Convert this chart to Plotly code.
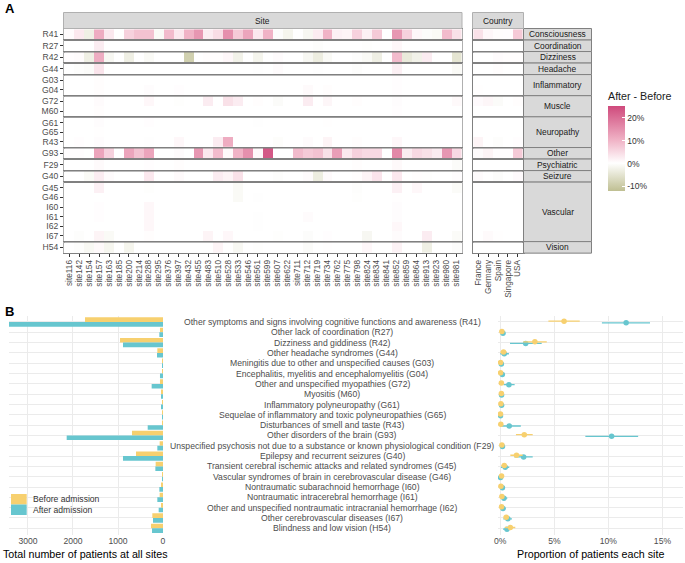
import plotly.graph_objects as go

W, H = 685, 563
FONT = "Liberation Sans"
GREY = "#4d4d4d"
YELLOW = "#F7D06F"
TEAL = "#67C6CF"

sites = ["site116", "site142", "site154", "site157", "site163", "site185", "site200", "site214", "site288", "site295",
         "site376", "site397", "site432", "site455", "site483", "site510", "site528", "site533", "site546", "site561",
         "site599", "site607", "site622", "site711", "site712", "site719", "site734", "site762", "site775", "site798",
         "site824", "site834", "site841", "site852", "site859", "site864", "site913", "site923", "site980", "site981"]
countries = ["France", "Germany", "Spain", "Singapore", "USA"]

# after - before, in % points, one list per ICD code
site_R41 = [.5, 3, -3, 11, 3, 0, 6, 8, 8, -1, 9, 3, 10, 14, 2.5, 4.5, 15, 7, 12, 3,
            10, -.5, -2, 0, -1.5, 2.5, 10, 2, 1.5, 6, 2, 7, 0, 14, 6, 1, -.5, -1, 9, 4]
site_R27 = [0, 0, 0, 2.5, 0, 0, 0, 0, 0, 0, 0, 0, 0, 0, 0, 0, 0, 0, 0, 0,
            0, 0, 0, 0, 0, -.3, 0, 0, 0, 0, -.2, 0, 0, 1, 0, 0, 0, 0, 0, 0]
site_R42 = [.2, .5, -3, 11, -1.5, 0, -3, 0, -1, 0, 0, 0, -9, 0, .3, .3, 1, -2.5, 0, -2,
            0, .5, 0, 0, -1.5, -3.5, -1, 0, 0, -.3, -1, -3, 0, 9, -4, -2.5, 2.5, 0, 0, -5]
site_G44 = [0, -.3, -.7, 3.5, 0, 0, 0, 0, 0, 0, 0, 0, 0, 0, 0, 0, 0, 0, 0, -.1,
            0, .5, 0, 0, 0, -.1, 0, 0, 0, -.3, 0, 0, 0, 2, 0, 0, 0, 0, 0, -1]
site_G03 = [0, 0, 0, .3, 0, 0, 0, 0, 0, 0, 0, 0, 0, 0, 0, 0, 0, 0, 0, 0,
            0, 0, 0, 0, 0, 0, 0, 0, 0, 0, 0, 0, 0, .2, 0, 0, 0, 0, 0, 0]
site_G04 = [0, 0, 0, .3, 0, 0, 0, 0, .4, 0, 0, .2, 0, 0, 0, 0, 0, 0, 0, 0,
            0, 0, 0, 0, .7, 0, .3, 0, 0, 0, 0, 0, 0, .2, 0, 0, 0, 0, 0, 0]
site_G72 = [0, 0, 0, .5, 0, 0, 0, 0, 1, 0, 0, -.2, 0, 0, 2.5, 0, 4, 2.5, 0, .3,
            0, -.7, 0, 0, 2.5, 0, 1.2, 0, 0, .3, 0, 0, 0, .4, 0, 0, 0, 0, 0, .8]
site_M60 = [0, 0, 0, .3, 0, 0, 0, 0, 0, 0, 0, 0, 0, 0, 0, 0, 0, 0, 0, 0,
            0, 0, 0, 0, 0, 0, 0, 0, 0, 0, 0, 0, 0, .2, 0, 0, 0, 0, 0, 0]
site_G61 = [0, 0, 0, .4, 0, 0, 0, 0, .2, 0, 0, 0, 0, 0, 0, 0, 0, 0, 0, -.1,
            0, 0, 0, 0, 0, 0, .1, 0, 0, 0, 0, 0, 0, 0, 0, 0, 0, 0, 0, 0]
site_G65 = [0, 0, 0, .1, 0, 0, 0, 0, 0, 0, 0, 0, 0, 0, 0, 0, 0, 0, 0, 0,
            0, 0, 0, 0, 0, 0, 0, 0, 0, 0, 0, 0, 0, 0, 0, 0, 0, 0, 0, 0]
site_R43 = [0, .2, 0, .4, 0, 0, 0, 0, -.1, 0, 0, 1, 0, 0, 0, 2.5, 11, 0, 0, 0,
            0, -.4, 0, 0, .5, 0, 1.5, 0, 0, .3, 0, 0, 0, 1, 0, 0, 0, 0, 0, 0]
site_G93 = [.2, .2, 0, 12, 6, 0, 12, 8, 12, 0, 0, .5, 0, 14, 3, 9, .8, 10, 15, 1,
            23, 0, 0, 9, 7, 8, 4, 13, 3, 6, 5, 5, 0, 16, 2.5, 5, 4, 2.5, 14, 5]
site_F29 = [0, 0, 0, .7, 0, 0, 0, 0, .2, 0, 0, .3, 0, 0, 0, 0, 0, 0, 0, 0,
            0, 0, 0, 0, 0, 0, 0, 0, 0, .3, 0, 0, 0, .8, 0, 0, 0, 0, 0, -.7]
site_G40 = [0, 0, -1, 2.5, .5, 0, 0, 0, 3, 0, 0, .7, 0, 0, 0, 2.5, 1.5, 4, 0, 0,
            0, -.3, 0, 0, .5, -3.5, .7, 0, 0, .3, 1.5, 3.5, 0, 3, 0, .3, -.2, 0, 0, .4]
site_G45 = [0, 0, 0, 2, 0, 0, 0, 0, -.2, 0, 0, 0, 0, 0, 0, 0, 0, -1, 0, 0,
            0, 0, 0, 0, 0, 0, 0, 0, 0, -.3, 0, 0, 0, 2, 0, 1, 0, 0, 0, -.8]
site_G46 = [0, 0, 0, 0, 0, 0, 0, 0, 0, 0, 0, 0, 0, 0, 0, 0, 0, -1, 0, -.1,
            0, 0, 0, 0, 0, 0, 0, 0, 0, -.2, 0, 0, 0, .1, 0, 0, 0, 0, 0, 0]
site_I60 = [0, 0, 0, .2, 0, 0, 0, 0, 1, 0, 0, 0, 0, 0, 0, 0, 0, 0, 0, 0,
            0, 0, 0, 0, 0, 0, 0, 0, 0, 0, 0, 0, 0, .4, 0, 0, 0, 0, 0, 0]
site_I61 = [0, 0, 0, .2, 0, 0, 0, 0, 1, 0, 0, 0, 0, 0, 0, 0, 0, 0, 0, -.1,
            0, 0, 0, 0, .5, 0, 0, 0, 0, 0, 0, 0, 0, .4, 0, 0, 0, 0, 0, 0]
site_I62 = [0, 0, 0, 0, 0, 0, 0, 0, 1, 0, 0, 0, 0, 0, 0, 0, 0, 0, 0, -.1,
            0, 0, 0, 0, 0, 0, 0, 0, 0, 0, 0, 0, 0, 1, 0, 0, 0, 0, 0, 0]
site_I67 = [0, -.3, 0, 1.5, -1, 0, 0, 0, .3, 0, 0, 0, 0, 0, 1.5, 0, 1, 0, 0, 0,
            0, -.2, 0, 0, -.5, 0, .2, 0, 0, 0, -1.5, 0, 0, .5, 0, 0, 2.5, 0, 0, -.8]
site_H54 = [0, -.3, -1.3, .8, -1.8, 0, -2, 0, 0, 0, 0, 0, 0, 0, 0, 1.5, 0, -1.3, 0, -.2,
            0, 0, 0, 0, -.7, 0, .1, 0, 0, 0, 1, 0, 0, 1.7, 0, 0, -3, 0, 0, -.5]

country_R41 = [4, 1, .3, .2, 7]
country_R27 = [0, 0, 0, 0, 0]
country_R42 = [0, 0, .5, .3, .3]
country_G44 = [0, 0, .3, 0, 0]
country_G03 = [0, 0, 0, 0, 0]
country_G04 = [.1, 0, 0, 0, 0]
country_G72 = [.6, 1.2, -.7, 0, .3]
country_M60 = [0, 0, 0, 0, 0]
country_G61 = [0, 0, 0, 0, 0]
country_G65 = [0, 0, 0, 0, 0]
country_R43 = [1.5, 0, -.3, 0, .2]
country_G93 = [.5, 1.5, .2, .2, 7]
country_F29 = [0, 0, 0, 0, 0]
country_G40 = [.5, 0, -.5, 0, .6]
country_G45 = [0, 0, 0, 0, 0]
country_G46 = [0, 0, 0, 0, 0]
country_I60 = [0, 0, 0, 0, 0]
country_I61 = [0, 0, 0, 0, 0]
country_I62 = [0, 0, 0, 0, 0]
country_I67 = [0, .7, .1, 0, 0]
country_H54 = [0, 0, 0, 0, 0]

site_rows = {"R41": site_R41, "R27": site_R27, "R42": site_R42, "G44": site_G44, "G03": site_G03, "G04": site_G04,
             "G72": site_G72, "M60": site_M60, "G61": site_G61, "G65": site_G65, "R43": site_R43, "G93": site_G93,
             "F29": site_F29, "G40": site_G40, "G45": site_G45, "G46": site_G46, "I60": site_I60, "I61": site_I61,
             "I62": site_I62, "I67": site_I67, "H54": site_H54}
country_rows = {"R41": country_R41, "R27": country_R27, "R42": country_R42, "G44": country_G44, "G03": country_G03,
                "G04": country_G04, "G72": country_G72, "M60": country_M60, "G61": country_G61, "G65": country_G65,
                "R43": country_R43, "G93": country_G93, "F29": country_F29, "G40": country_G40, "G45": country_G45,
                "G46": country_G46, "I60": country_I60, "I61": country_I61, "I62": country_I62, "I67": country_I67,
                "H54": country_H54}

facets = [("Consciousness", ["R41"]), ("Coordination", ["R27"]), ("Dizziness", ["R42"]), ("Headache", ["G44"]),
          ("Inflammatory", ["G03", "G04"]), ("Muscle", ["G72", "M60"]), ("Neuropathy", ["G61", "G65", "R43"]),
          ("Other", ["G93"]), ("Psychiatric", ["F29"]), ("Seizure", ["G40"]),
          ("Vascular", ["G45", "G46", "I60", "I61", "I62", "I67"]), ("Vision", ["H54"])]

diagnoses = ["Other symptoms and signs involving cognitive functions and awareness (R41)",
             "Other lack of coordination (R27)", "Dizziness and giddiness (R42)", "Other headache syndromes (G44)",
             "Meningitis due to other and unspecified causes (G03)", "Encephalitis, myelitis and encephalomyelitis (G04)",
             "Other and unspecified myopathies (G72)", "Myositis (M60)", "Inflammatory polyneuropathy (G61)",
             "Sequelae of inflammatory and toxic polyneuropathies (G65)", "Disturbances of smell and taste (R43)",
             "Other disorders of the brain (G93)",
             "Unspecified psychosis not due to a substance or known physiological condition (F29)",
             "Epilepsy and recurrent seizures (G40)", "Transient cerebral ischemic attacks and related syndromes (G45)",
             "Vascular syndromes of brain in cerebrovascular disease (G46)", "Nontraumatic subarachnoid hemorrhage (I60)",
             "Nontraumatic intracerebral hemorrhage (I61)", "Other and unspecified nontraumatic intracranial hemorrhage (I62)",
             "Other cerebrovascular diseases (I67)", "Blindness and low vision (H54)"]

total_before = [1733, 67, 955, 126, 7, 2, 67, 44, 22, 2, 22, 689, 74, 600, 163, 22, 44, 74, 44, 237, 267]
total_after = [3422, 81, 889, 133, 22, 67, 252, 44, 44, 3, 340, 2140, 126, 889, 170, 15, 81, 126, 96, 222, 244]

prop_before = [5.9, .15, 3.2, .3, .03, .03, .1, .1, .06, .02, .05, 2.22, .15, 1.5, .37, .12, .06, .15, .12, .55, .93]
low_before = [4.45, .05, 2.13, 0, 0, 0, 0, 0, 0, 0, 0, 1.45, .03, .93, .1, 0, 0, .03, .02, .3, .43]
high_before = [7.35, .3, 4.3, .6, .1, .1, .25, .2, .15, .06, .15, 3.0, .3, 2.07, .65, .25, .15, .3, .25, .8, 1.39]
prop_after = [11.64, .25, 2.35, .37, .1, .19, .8, .12, .12, .02, .83, 10.3, .2, 2.16, .46, .03, .2, .34, .25, .7, .62]
low_after = [9.4, .08, .9, 0, 0, 0, .3, 0, 0, 0, 0, 7.87, .05, 1.3, .06, 0, .05, .05, .05, .28, .25]
high_after = [13.85, .45, 3.83, .8, .25, .4, 1.33, .3, .25, .06, 1.9, 12.75, .4, 3.0, .83, .1, .4, .65, .5, 1.08, .99]

colorscale = [[0, "#BFBF92"], [.328, "#FFFFFF"], [.597, "#F0B3C6"], [1, "#CF4A7C"]]


def px(x):
    return x / W


def py(y):
    return 1 - y / H


def note(text, x, y, size=8.4, color="#1a1a1a", xanchor="center"):
    return dict(text=text, x=px(x), y=py(y), xref="paper", yref="paper", xanchor=xanchor, yanchor="middle",
                showarrow=False, font=dict(size=size, color=color))


fig = go.Figure()
axes = {}
shapes = []
notes = []

# panel A: one row of facets per symptom group, site and country columns
SITE_L, SITE_R = 63.5, 462
COUNTRY_L, COUNTRY_R = 472.5, 523.5
STRIP_R = 591.5
top = 28.5
unit = 9.6
k = 0
for f, (group, codes) in enumerate(facets):
    bottom = top + (len(codes) + .2) * unit
    last = f == len(facets) - 1
    for columns, rows, left, right, edge in [(sites, site_rows, SITE_L, SITE_R, "#b0b0b0"),
                                             (countries, country_rows, COUNTRY_L, COUNTRY_R, "#808080")]:
        k += 1
        fig.add_trace(go.Heatmap(
            z=[rows[c] for c in codes], x=columns, y=codes,
            zmin=-12.2, zmax=25, colorscale=colorscale, xgap=0, ygap=0,
            showscale=k == 1, xaxis=f"x{k}", yaxis=f"y{k}",
            colorbar=dict(
                title=dict(text="After - Before", side="top", font=dict(size=10.7, color="#1a1a1a")),
                x=px(608), xanchor="left", y=py(89.4), yanchor="top", xpad=0, ypad=0,
                thickness=17, thicknessmode="pixels", len=102.3, lenmode="pixels", outlinewidth=0,
                tickvals=[-10, 0, 10, 20], ticktext=["-10%", "0%", "10%", "20%"],
                ticks="inside", ticklen=3, tickcolor="white", tickfont=dict(size=8.5, color="#333333")),
        ))
        axes[f"xaxis{k}"] = dict(
            domain=[px(left), px(right)], anchor=f"y{k}", type="category", categoryorder="array",
            categoryarray=columns, range=[-.6, len(columns) - .4], showgrid=False, zeroline=False,
            showline=True, mirror=True, linecolor="#808080", linewidth=1,
            tickmode="array", tickvals=columns,
            showticklabels=last, ticks="outside" if last else "", ticklen=2.5, tickcolor="#333333",
            tickangle=-90, tickfont=dict(size=8.3, color=GREY, family=FONT))
        axes[f"yaxis{k}"] = dict(
            domain=[py(bottom), py(top)], anchor=f"x{k}", type="category", categoryorder="array",
            categoryarray=codes, range=[len(codes) - .4, -.6], showgrid=False, zeroline=False,
            showline=True, mirror=True, linecolor=edge, linewidth=1, tickmode="array", tickvals=codes,
            showticklabels=columns is sites, ticks="outside" if columns is sites else "", ticklen=2.5,
            tickcolor="#333333", tickfont=dict(size=8.6, color=GREY, family=FONT))
    shapes.append(dict(type="rect", xref="paper", yref="paper", x0=px(COUNTRY_R), x1=px(STRIP_R),
                       y0=py(bottom), y1=py(top), fillcolor="#D9D9D9", line=dict(color="#808080", width=1)))
    notes.append(note(group, (COUNTRY_R + STRIP_R) / 2, (top + bottom) / 2))
    top = bottom

for label, left, right in [("Site", SITE_L, SITE_R), ("Country", COUNTRY_L, COUNTRY_R)]:
    shapes.append(dict(type="rect", xref="paper", yref="paper", x0=px(left), x1=px(right), y0=py(28.5), y1=py(12.5),
                       fillcolor="#D9D9D9", line=dict(color="#b0b0b0", width=1)))
    notes.append(note(label, (left + right) / 2, 20.5))

# panel B: mirrored bars, shared diagnosis labels, proportions with intervals
rows_b = list(range(len(diagnoses)))
bar_axis = dict(domain=[py(534.5), py(315.8)], range=[20.6, -.6], showticklabels=False, ticks="",
                tickvals=rows_b, showgrid=True, gridcolor="#EBEBEB", gridwidth=1, zeroline=False)
k += 1
bar_k = k
fig.add_trace(go.Bar(y=rows_b, x=total_before, orientation="h", marker=dict(color=YELLOW, line_width=0),
                     name="Before admission", showlegend=False, xaxis=f"x{k}", yaxis=f"y{k}"))
fig.add_trace(go.Bar(y=rows_b, x=total_after, orientation="h", marker=dict(color=TEAL, line_width=0),
                     name="After admission", showlegend=False, xaxis=f"x{k}", yaxis=f"y{k}"))
axes[f"xaxis{k}"] = dict(
    domain=[px(9), px(163)], anchor=f"y{k}", range=[3422, 0], tickvals=[0, 1000, 2000, 3000],
    showgrid=True, gridcolor="#EBEBEB", gridwidth=1, zeroline=False, ticks="",
    tickfont=dict(size=8.6, color=GREY, family=FONT))
axes[f"yaxis{k}"] = dict(anchor=f"x{k}", **bar_axis)

k += 1
fig.add_trace(go.Scatter(
    x=prop_after, y=[r + .08 for r in rows_b], mode="markers", marker=dict(color=TEAL, size=5.5),
    error_x=dict(type="data", symmetric=False, array=[h - p for h, p in zip(high_after, prop_after)],
                 arrayminus=[p - l for p, l in zip(prop_after, low_after)], color=TEAL, thickness=1.3, width=0),
    showlegend=False, xaxis=f"x{k}", yaxis=f"y{k}"))
fig.add_trace(go.Scatter(
    x=prop_before, y=[r - .08 for r in rows_b], mode="markers", marker=dict(color=YELLOW, size=5.5),
    error_x=dict(type="data", symmetric=False, array=[h - p for h, p in zip(high_before, prop_before)],
                 arrayminus=[p - l for p, l in zip(prop_before, low_before)], color=YELLOW, thickness=1.3, width=0),
    showlegend=False, xaxis=f"x{k}", yaxis=f"y{k}"))
axes[f"xaxis{k}"] = dict(
    domain=[px(498), px(683)], anchor=f"y{k}", range=[-.21, 16.9], tickvals=[0, 5, 10, 15],
    ticktext=["0%", "5%", "10%", "15%"], showgrid=True, gridcolor="#EBEBEB", gridwidth=1, zeroline=False, ticks="",
    tickfont=dict(size=8.6, color=GREY, family=FONT))
axes[f"yaxis{k}"] = dict(anchor=f"x{k}", **bar_axis)

for r, label in zip(rows_b, diagnoses):
    notes.append(dict(text=label, x=px(332), y=r, xref="paper", yref=f"y{bar_k}", xanchor="center", yanchor="middle",
                      showarrow=False, font=dict(size=8.65, color=GREY)))

notes.append(note("Total number of patients at all sites", 85.5, 554, size=10.7, color="black"))
notes.append(note("Proportion of patients each site", 590, 554, size=10.7, color="black"))

# legend drawn by hand, plotly keeps a 19px minimum row height
for label, color, y0, y1 in [("Before admission", YELLOW, 494, 504.5), ("After admission", TEAL, 504.5, 515)]:
    shapes.append(dict(type="rect", xref="paper", yref="paper", x0=px(11), x1=px(26.7), y0=py(y1), y1=py(y0),
                       fillcolor=color, line_width=0))
    notes.append(note(label, 30.5, (y0 + y1) / 2, size=8.6, color="#333333", xanchor="left"))

notes.append(note("<b>A</b>", 2.5, 8.5, size=13, color="black", xanchor="left"))
notes.append(note("<b>B</b>", 2.5, 311, size=13, color="black", xanchor="left"))

# the default template turns automargin on, which would shift every panel
for axis in axes.values():
    axis["automargin"] = False

fig.update_layout(
    width=W, height=H, margin=dict(l=0, r=0, t=0, b=0, autoexpand=False), autosize=False, showlegend=False,
    paper_bgcolor="white", plot_bgcolor="white", font=dict(family=FONT, color=GREY),
    barmode="group", bargap=.1, bargroupgap=0,
    shapes=shapes, annotations=notes, **axes)

# the page's default body margin would push the figure 8px in
fig.write_html("out.html", config=dict(displayModeBar=False),
               post_script="document.body.style.margin='0';document.documentElement.style.overflow='hidden';")
